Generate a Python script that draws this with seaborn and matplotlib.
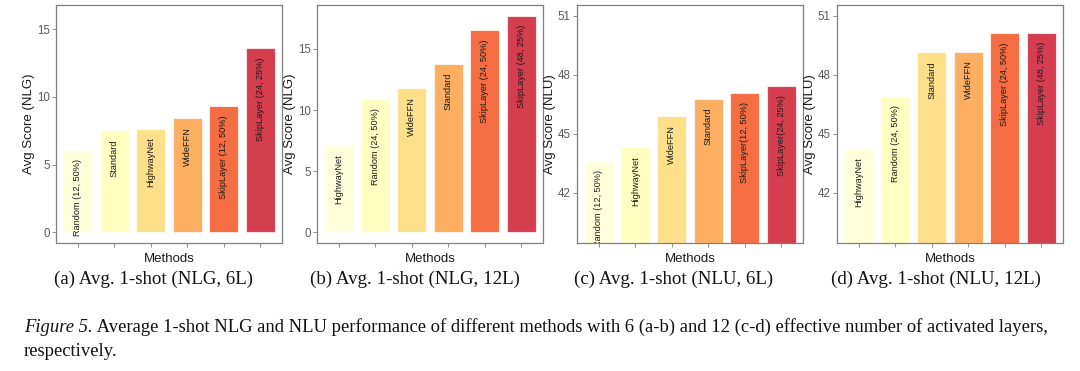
import matplotlib
matplotlib.use("Agg")
import matplotlib.pyplot as plt
from matplotlib.text import Annotation
import seaborn as sns
import pandas as pd

# ── Data ──────────────────────────────────────────────
methods_a = ["Random (12, 50%)", "Standard", "HighwayNet", "WideFFN",
             "SkipLayer (12, 50%)", "SkipLayer (24, 25%)"]
scores_a  = [6.06, 7.53, 7.66, 8.44, 9.33, 13.6]

methods_b = ["HighwayNet", "Random (24, 50%)", "WideFFN", "Standard",
             "SkipLayer (24, 50%)", "SkipLayer (48, 25%)"]
scores_b  = [7.12, 10.87, 11.79, 13.77, 16.52, 17.69]

methods_c = ["Random (12, 50%)", "HighwayNet", "WideFFN", "Standard",
             "SkipLayer(12, 50%)", "SkipLayer(24, 25%)"]
scores_c  = [43.6, 44.33, 45.9, 46.78, 47.07, 47.44]

methods_d = ["HighwayNet", "Random (24, 50%)", "Standard", "WideFFN",
             "SkipLayer (24, 50%)", "SkipLayer (48, 25%)"]
scores_d  = [44.25, 46.93, 49.15, 49.18, 50.12, 50.12]

ylabels  = ["Avg Score (NLG)", "Avg Score (NLG)", "Avg Score (NLU)", "Avg Score (NLU)"]
captions = ["(a) Avg. 1-shot (NLG, 6L)", "(b) Avg. 1-shot (NLG, 12L)",
            "(c) Avg. 1-shot (NLU, 6L)", "(d) Avg. 1-shot (NLU, 12L)"]
yticks_nlg = [0, 5, 10, 15]
yticks_nlu = [42, 45, 48, 51]

palette = ["#FFFFDA", "#FFFFC2", "#FEE08B", "#FDAE61", "#F46D43", "#D53E4F"]

# ── Style ─────────────────────────────────────────────
sns.set_style("white")
plt.rcParams["font.family"] = ["Liberation Sans", "DejaVu Sans"]

W, H = 1080, 371
fig = plt.figure(figsize=(W / 100, H / 100), dpi=100)

panels = [
    (methods_a, scores_a, (0, 16), yticks_nlg, 56),
    (methods_b, scores_b, (0, 17.71), yticks_nlg, 317),
    (methods_c, scores_c, (40, 51), yticks_nlu, 577),
    (methods_d, scores_d, (40, 51), yticks_nlu, 837),
]
PANEL_W, TOP, BOTTOM = 226, 5, 243

for k, (methods, scores, lim, yticks, left) in enumerate(panels):
    ax = fig.add_axes([left / W, (H - BOTTOM) / H, PANEL_W / W, (BOTTOM - TOP) / H])
    df = pd.DataFrame({"method": methods, "score": scores})
    sns.barplot(data=df, x="method", y="score", hue="method", order=methods,
                hue_order=methods, palette=palette, legend=False, width=0.8,
                saturation=1, edgecolor=(1, 1, 1, 0.7), linewidth=0.8, ax=ax)

    # ggplot-like 5% expansion around the limits
    span = lim[1] - lim[0]
    ax.set_ylim(lim[0] - 0.05 * span, lim[1] + 0.05 * span)
    ax.set_xlim(-0.6, len(methods) - 0.4)
    ax.set_yticks(yticks)
    ax.set_xticks(range(len(methods)))
    ax.set_xticklabels([])

    for i, (m, v) in enumerate(zip(methods, scores)):
        ax.annotate(m, xy=(i, v), xytext=(0, -9), textcoords="offset pixels",
                    rotation=90, ha="center", va="top", fontsize=6.6,
                    color="#1a1a1a", annotation_clip=False, clip_on=True)

    for s in ax.spines.values():
        s.set_color("#7f7f7f")
        s.set_linewidth(0.9)
    ax.tick_params(axis="both", length=3, width=0.6, color="#7f7f7f",
                   labelcolor="#5a5a5a", labelsize=8.3, pad=1.5,
                   bottom=True, left=True)
    ax.set_xlabel("Methods", fontsize=9.5, color="#1a1a1a", labelpad=3)
    ax.set_ylabel(ylabels[k], fontsize=9.5, color="#1a1a1a", labelpad=1.5)

# ── Captions ──────────────────────────────────────────
cap_x = [154, 415, 674, 936]
for x, c in zip(cap_x, captions):
    fig.text(x / W, (H - 279) / H, c, ha="center", va="center",
             fontsize=13.6, family="Liberation Serif", color="#111111")

t1 = fig.text(24 / W, (H - 328) / H, "Figure 5.", ha="left", va="center",
              fontsize=13.4, family="Liberation Serif", style="italic", color="#111111")
rest = Annotation(" Average 1-shot NLG and NLU performance of different methods with 6 (a-b) "
                  "and 12 (c-d) effective number of activated layers,",
                  xy=(1, 0), xycoords=t1, va="bottom", ha="left",
                  fontsize=13.4, family="Liberation Serif", color="#111111")
fig.add_artist(rest)
fig.text(24 / W, (H - 352) / H, "respectively.", ha="left", va="center",
         fontsize=13.4, family="Liberation Serif", color="#111111")

fig.savefig("out.png", dpi=100)
